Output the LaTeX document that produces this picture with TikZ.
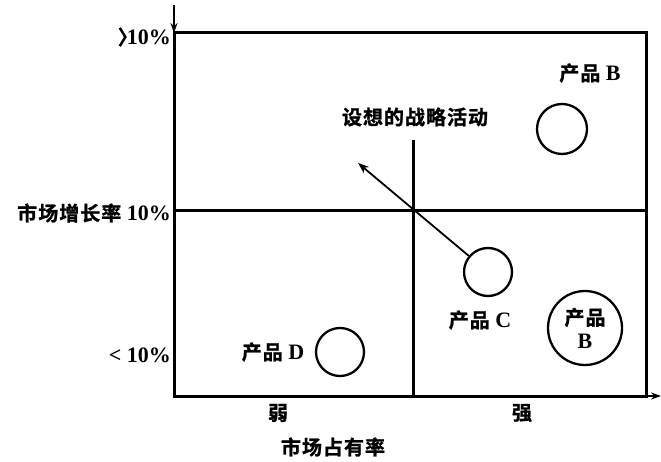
\documentclass[tikz,border=0pt]{standalone}
\usepackage{fontspec}
\setmainfont{Liberation Serif}
\newfontfamily\cjk{Noto Sans CJK SC}[BoldFont={Noto Sans CJK SC Bold},BoldFeatures={FakeBold=1.2},LetterSpace=5]
\newcommand{\latn}[1]{{\rmfamily\bfseries\fontsize{22}{24}\selectfont #1}}
\usetikzlibrary{arrows.meta}
\begin{document}
\begin{tikzpicture}[x=1pt,y=-1pt,
  frame/.style={line width=3pt},
  lbl/.style={font=\cjk\bfseries\fontsize{20}{22}\selectfont, inner sep=0pt},
  prod/.style={draw, circle, line width=2.3pt, minimum size=#1, inner sep=0pt},
  move/.style={line width=1.8pt, -{Stealth[length=11pt,width=8pt]}},
  axisarrow/.style={line width=1.6pt, -{Stealth[length=10pt,width=7pt]}}]
\useasboundingbox (0,0) rectangle (661,462);
% frame corners
\coordinate (tl) at (174,33);
\coordinate (br) at (646,396);
\draw[frame] (tl) rectangle (br);
% axis arrows
\coordinate (ytop) at (174,5);
\coordinate (xend) at (661,396);
\draw[axisarrow] (ytop) -- (tl);
\draw[axisarrow] (br) -- (xend);
% dividers
\coordinate (ml) at (174,211);
\coordinate (mr) at (646,211);
\coordinate (vt) at (413,140);
\coordinate (vb) at (413,396);
\draw[frame] (ml) -- (mr);
\draw[frame] (vt) -- (vb);
% circles
\node[prod=50pt] (cB) at (562,129) {};
\node[prod=74pt, lbl, align=center] (cB2) at (585,328) {产品\\[1pt]\latn{B}};
\node[prod=48pt] (cC) at (488,272) {};
\node[prod=48pt] (cD) at (340,352) {};
% arrow
\coordinate (tipA) at (358,163);
\draw[move] (cC) -- (tipA);
% labels
\node[lbl] (lB) at (590,73) {产品 \latn{B}};
\node[lbl] (lact) at (415,117) {设想的战略活动};
\node[lbl] (lC) at (480,320) {产品 \latn{C}};
\node[lbl] (lD) at (273,352) {产品 \latn{D}};
\node[lbl, anchor=east] (lhi) at (171,37) {〉\hspace{-0.55em}\latn{10\%}};
\node[lbl, anchor=east] (lmid) at (171,213) {市场增长率 \latn{10\%}};
\node[lbl, anchor=east] (llo) at (171,355) {\latn{< 10\%}};
\node[lbl] (lweak) at (278,413) {弱};
\node[lbl] (lstrong) at (522,413) {强};
\node[lbl] (lshare) at (333,447) {市场占有率};
\end{tikzpicture}
\end{document}
